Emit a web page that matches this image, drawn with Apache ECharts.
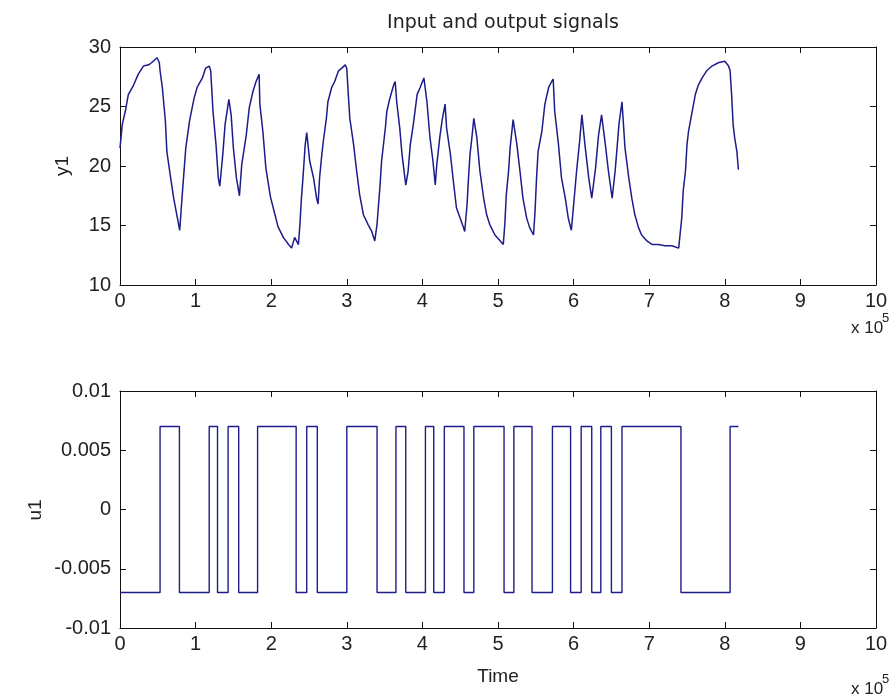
<!DOCTYPE html>
<html>
<head>
<meta charset="utf-8">
<script src="https://cdn.jsdelivr.net/npm/echarts@6/dist/echarts.min.js"></script>
<style>
html,body{margin:0;padding:0;background:#fff;}
#main{width:895px;height:699px;}
</style>
</head>
<body>
<div id="main"></div>
<script>
// Time in units of 1e5
var xTicks = [0,1,2,3,4,5,6,7,8,9,10];
var y1Ticks = [10,15,20,25,30];
var u1Ticks = [-0.01,-0.005,0,0.005,0.01];

var y1Time = [0.00,0.03,0.07,0.11,0.18,0.24,0.31,0.38,0.42,0.49,0.52,0.53,0.56,0.60,0.62,0.67,0.71,0.76,0.79,0.82,0.87,0.92,0.98,1.02,1.09,1.13,1.18,1.20,1.23,1.27,1.30,1.32,1.36,1.39,1.44,1.47,1.50,1.54,1.58,1.61,1.67,1.71,1.76,1.80,1.84,1.85,1.89,1.93,1.99,2.05,2.09,2.16,2.23,2.27,2.31,2.36,2.38,2.40,2.42,2.45,2.47,2.51,2.56,2.60,2.62,2.64,2.67,2.69,2.73,2.75,2.80,2.84,2.89,2.93,2.98,3.00,3.02,3.04,3.09,3.13,3.17,3.22,3.28,3.33,3.37,3.40,3.44,3.46,3.51,3.53,3.57,3.62,3.64,3.66,3.70,3.73,3.78,3.81,3.84,3.88,3.93,3.97,4.02,4.04,4.06,4.10,4.14,4.17,4.19,4.23,4.26,4.30,4.32,4.37,4.41,4.45,4.50,4.54,4.56,4.59,4.61,4.63,4.65,4.68,4.72,4.76,4.81,4.85,4.89,4.96,5.03,5.07,5.09,5.11,5.14,5.16,5.20,5.25,5.29,5.33,5.38,5.42,5.47,5.49,5.51,5.53,5.58,5.62,5.67,5.71,5.73,5.75,5.80,5.84,5.89,5.93,5.97,6.00,6.04,6.08,6.11,6.15,6.20,6.24,6.29,6.33,6.37,6.42,6.46,6.51,6.55,6.60,6.64,6.68,6.73,6.77,6.81,6.86,6.90,6.97,7.04,7.12,7.21,7.30,7.39,7.41,7.43,7.45,7.48,7.50,7.52,7.56,7.61,7.65,7.70,7.76,7.83,7.92,8.00,8.05,8.07,8.09,8.11,8.13,8.16,8.18];
var y1Value = [21.5,23.5,24.6,26.0,26.8,27.7,28.4,28.5,28.7,29.1,28.7,28.0,26.6,23.8,21.2,19.0,17.3,15.6,14.6,17.3,21.5,23.8,25.7,26.6,27.4,28.2,28.4,28.0,24.6,21.8,19.0,18.3,21.0,23.5,25.6,24.3,21.5,19.0,17.5,20.1,22.6,24.9,26.3,27.1,27.7,25.2,22.9,19.8,17.4,15.9,14.9,14.0,13.4,13.1,14.0,13.4,15.1,17.3,19.0,21.8,22.8,20.4,19.0,17.3,16.8,19.0,21.0,22.1,24.0,25.4,26.6,27.1,28.0,28.2,28.5,28.2,26.0,24.0,21.8,19.6,17.6,15.9,15.1,14.5,13.7,15.1,18.4,20.4,23.2,24.6,25.7,26.8,27.1,25.4,23.2,21.0,18.4,19.5,21.8,23.5,26.0,26.6,27.4,27.5,25.4,22.4,20.4,18.4,20.1,22.4,23.8,25.2,23.2,21.0,18.7,16.5,15.6,14.9,14.5,16.7,19.0,21.0,22.1,24.0,22.4,19.6,17.3,15.9,15.1,14.2,13.7,13.4,15.1,17.6,19.6,21.5,23.9,21.8,19.6,17.3,15.6,14.8,14.2,16.2,19.0,21.2,22.9,25.2,26.6,27.1,27.3,24.6,21.8,19.0,17.3,15.6,14.6,16.7,19.6,22.1,24.3,21.8,19.0,17.3,19.8,22.6,24.3,21.8,19.6,17.3,19.6,23.5,25.4,21.5,19.0,17.3,15.9,14.8,14.2,13.7,13.4,13.4,13.3,13.3,13.1,13.0,15.6,17.9,19.6,21.8,22.9,24.3,26.0,26.8,27.4,28.0,28.4,28.7,28.8,28.4,28.0,26.0,23.5,22.4,21.2,19.7];

// u1 switching instants and the level held from each instant on
var u1Time = [0,0.53,0.786,1.18,1.29,1.43,1.57,1.82,2.33,2.47,2.61,3.00,3.40,3.65,3.78,4.04,4.15,4.29,4.55,4.68,5.08,5.21,5.45,5.72,5.96,6.10,6.24,6.36,6.50,6.64,7.42,8.07,8.18];
var u1Value = [-0.007,0.007,-0.007,0.007,-0.007,0.007,-0.007,0.007,-0.007,0.007,-0.007,0.007,-0.007,0.007,-0.007,0.007,-0.007,0.007,-0.007,0.007,-0.007,0.007,-0.007,0.007,-0.007,0.007,-0.007,0.007,-0.007,0.007,-0.007,0.007,0.007];

var y1Data = y1Time.map(function(t,i){return [t, y1Value[i]];});
var u1Data = u1Time.map(function(t,i){return [t, u1Value[i]];});

var FONT = 'Liberation Sans';
var lineColor = '#1c1c8a';
var axisCol = '#111';

function xAx(grid, pos, showLabel){
  return {
    type:'value', gridIndex:grid, position:pos, min:xTicks[0], max:xTicks[xTicks.length-1], interval:1,
    axisLine:{show:true, onZero:false, lineStyle:{color:axisCol, width:1}},
    axisTick:{show:true, inside:true, length:6, lineStyle:{color:axisCol}},
    axisLabel:{show:showLabel, margin:6, color:'#222', fontFamily:FONT, fontSize:20},
    splitLine:{show:false}
  };
}
function yAx(grid, pos, showLabel, ticks){
  return {
    type:'value', gridIndex:grid, position:pos, min:ticks[0], max:ticks[ticks.length-1], interval:ticks[1]-ticks[0],
    axisLine:{show:true, onZero:false, lineStyle:{color:axisCol, width:1}},
    axisTick:{show:true, inside:true, length:6, lineStyle:{color:axisCol}},
    axisLabel:{show:showLabel, margin:9, color:'#222', fontFamily:FONT, fontSize:20,
      formatter:function(v){ return String(parseFloat(v.toFixed(4))); }},
    splitLine:{show:false}
  };
}

var chart = echarts.init(document.getElementById('main'), null, {renderer:'canvas'});
chart.setOption({
  backgroundColor:'#fff',
  animation:false,
  title:{text:'Input and output signals', left:498, top:9, textAlign:'center',
    textStyle:{fontFamily:'DejaVu Sans', fontSize:19, fontWeight:'normal', color:'#222'}},
  grid:[
    {left:120, top:47, width:756, height:238},
    {left:120, top:391, width:756, height:237}
  ],
  xAxis:[xAx(0,'bottom',true), xAx(0,'top',false), xAx(1,'bottom',true), xAx(1,'top',false)],
  yAxis:[yAx(0,'left',true,y1Ticks), yAx(0,'right',false,y1Ticks), yAx(1,'left',true,u1Ticks), yAx(1,'right',false,u1Ticks)],
  series:[
    {type:'line', xAxisIndex:0, yAxisIndex:0, data:y1Data, showSymbol:false, symbol:'none',
      lineStyle:{color:lineColor, width:1.5}},
    {type:'line', xAxisIndex:2, yAxisIndex:2, data:u1Data, showSymbol:false, symbol:'none', step:'end',
      lineStyle:{color:lineColor, width:1.4}}
  ],
  graphic:[
    {type:'text', x:63, y:166, rotation:Math.PI/2, style:{text:'y1', fontFamily:FONT, fontSize:19, fill:'#222', align:'center', verticalAlign:'middle'}},
    {type:'text', x:36, y:510, rotation:Math.PI/2, style:{text:'u1', fontFamily:FONT, fontSize:19, fill:'#222', align:'center', verticalAlign:'middle'}},
    {type:'text', x:498, y:677, style:{text:'Time', fontFamily:FONT, fontSize:19, fill:'#222', align:'center', verticalAlign:'middle'}},
    {type:'text', x:851, y:328, style:{text:'x 10', fontFamily:FONT, fontSize:17, fill:'#222', align:'left', verticalAlign:'middle'}},
    {type:'text', x:882, y:318, style:{text:'5', fontFamily:FONT, fontSize:13, fill:'#222', align:'left', verticalAlign:'middle'}},
    {type:'text', x:851, y:689, style:{text:'x 10', fontFamily:FONT, fontSize:17, fill:'#222', align:'left', verticalAlign:'middle'}},
    {type:'text', x:882, y:679, style:{text:'5', fontFamily:FONT, fontSize:13, fill:'#222', align:'left', verticalAlign:'middle'}}
  ]
});
</script>
</body>
</html>
